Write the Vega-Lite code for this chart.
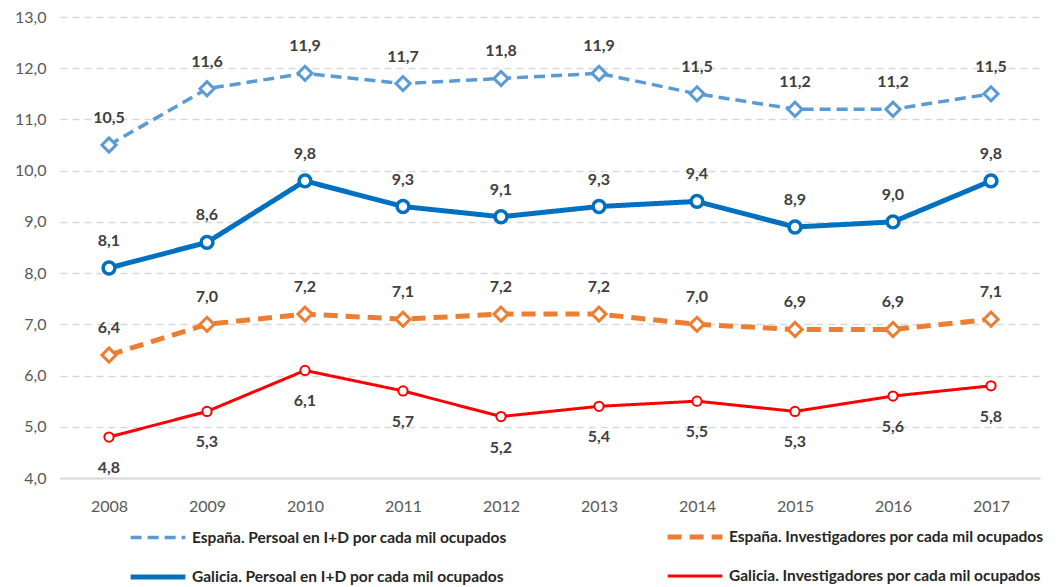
{
  "$schema": "https://vega.github.io/schema/vega-lite/v6.json",
  "width": 980,
  "height": 461,
  "autosize": {"type": "none"},
  "padding": {"left": 60, "top": 17, "right": 22, "bottom": 109},
  "config": {
    "view": {"stroke": null},
    "font": "Lato"
  },
  "data": {
    "values": [
      {"anio": "2008", "serie": "España. Persoal en I+D por cada mil ocupados", "valor": 10.5},
      {"anio": "2009", "serie": "España. Persoal en I+D por cada mil ocupados", "valor": 11.6},
      {"anio": "2010", "serie": "España. Persoal en I+D por cada mil ocupados", "valor": 11.9},
      {"anio": "2011", "serie": "España. Persoal en I+D por cada mil ocupados", "valor": 11.7},
      {"anio": "2012", "serie": "España. Persoal en I+D por cada mil ocupados", "valor": 11.8},
      {"anio": "2013", "serie": "España. Persoal en I+D por cada mil ocupados", "valor": 11.9},
      {"anio": "2014", "serie": "España. Persoal en I+D por cada mil ocupados", "valor": 11.5},
      {"anio": "2015", "serie": "España. Persoal en I+D por cada mil ocupados", "valor": 11.2},
      {"anio": "2016", "serie": "España. Persoal en I+D por cada mil ocupados", "valor": 11.2},
      {"anio": "2017", "serie": "España. Persoal en I+D por cada mil ocupados", "valor": 11.5},
      {"anio": "2008", "serie": "España. Investigadores por cada mil ocupados", "valor": 6.4},
      {"anio": "2009", "serie": "España. Investigadores por cada mil ocupados", "valor": 7.0},
      {"anio": "2010", "serie": "España. Investigadores por cada mil ocupados", "valor": 7.2},
      {"anio": "2011", "serie": "España. Investigadores por cada mil ocupados", "valor": 7.1},
      {"anio": "2012", "serie": "España. Investigadores por cada mil ocupados", "valor": 7.2},
      {"anio": "2013", "serie": "España. Investigadores por cada mil ocupados", "valor": 7.2},
      {"anio": "2014", "serie": "España. Investigadores por cada mil ocupados", "valor": 7.0},
      {"anio": "2015", "serie": "España. Investigadores por cada mil ocupados", "valor": 6.9},
      {"anio": "2016", "serie": "España. Investigadores por cada mil ocupados", "valor": 6.9},
      {"anio": "2017", "serie": "España. Investigadores por cada mil ocupados", "valor": 7.1},
      {"anio": "2008", "serie": "Galicia. Persoal en I+D por cada mil ocupados", "valor": 8.1},
      {"anio": "2009", "serie": "Galicia. Persoal en I+D por cada mil ocupados", "valor": 8.6},
      {"anio": "2010", "serie": "Galicia. Persoal en I+D por cada mil ocupados", "valor": 9.8},
      {"anio": "2011", "serie": "Galicia. Persoal en I+D por cada mil ocupados", "valor": 9.3},
      {"anio": "2012", "serie": "Galicia. Persoal en I+D por cada mil ocupados", "valor": 9.1},
      {"anio": "2013", "serie": "Galicia. Persoal en I+D por cada mil ocupados", "valor": 9.3},
      {"anio": "2014", "serie": "Galicia. Persoal en I+D por cada mil ocupados", "valor": 9.4},
      {"anio": "2015", "serie": "Galicia. Persoal en I+D por cada mil ocupados", "valor": 8.9},
      {"anio": "2016", "serie": "Galicia. Persoal en I+D por cada mil ocupados", "valor": 9.0},
      {"anio": "2017", "serie": "Galicia. Persoal en I+D por cada mil ocupados", "valor": 9.8},
      {"anio": "2008", "serie": "Galicia. Investigadores por cada mil ocupados", "valor": 4.8},
      {"anio": "2009", "serie": "Galicia. Investigadores por cada mil ocupados", "valor": 5.3},
      {"anio": "2010", "serie": "Galicia. Investigadores por cada mil ocupados", "valor": 6.1},
      {"anio": "2011", "serie": "Galicia. Investigadores por cada mil ocupados", "valor": 5.7},
      {"anio": "2012", "serie": "Galicia. Investigadores por cada mil ocupados", "valor": 5.2},
      {"anio": "2013", "serie": "Galicia. Investigadores por cada mil ocupados", "valor": 5.4},
      {"anio": "2014", "serie": "Galicia. Investigadores por cada mil ocupados", "valor": 5.5},
      {"anio": "2015", "serie": "Galicia. Investigadores por cada mil ocupados", "valor": 5.3},
      {"anio": "2016", "serie": "Galicia. Investigadores por cada mil ocupados", "valor": 5.6},
      {"anio": "2017", "serie": "Galicia. Investigadores por cada mil ocupados", "valor": 5.8}
    ]
  },
  "transform": [
    {"calculate": "replace(format(datum.valor, '.1f'), '.', ',')", "as": "etiqueta"}
  ],
  "encoding": {
    "x": {
      "field": "anio", "type": "ordinal",
      "scale": {"type": "point", "padding": 0.5},
      "axis": {
        "title": null, "labelAngle": 0, "labelFont": "Lato", "labelFontSize": 16,
        "labelColor": "#595959", "labelPadding": 20, "ticks": false,
        "domain": true, "domainColor": "#D9D9D9", "domainWidth": 2, "grid": false
      }
    },
    "y": {
      "field": "valor", "type": "quantitative",
      "scale": {"domain": [4, 13], "nice": false, "zero": false},
      "axis": {
        "title": null, "values": [4, 5, 6, 7, 8, 9, 10, 11, 12, 13],
        "labelExpr": "replace(format(datum.value, '.1f'), '.', ',')",
        "labelFont": "Lato", "labelFontSize": 16, "labelColor": "#595959",
        "labelPadding": 14, "ticks": false, "domain": false,
        "grid": true, "gridColor": "#D9D9D9", "gridWidth": 1.5, "gridDash": [7, 5]
      }
    }
  },
  "layer": [
    {
      "mark": {"type": "line"},
      "encoding": {
        "color": {
          "field": "serie", "type": "nominal",
          "scale": {
            "domain": ["España. Persoal en I+D por cada mil ocupados", "España. Investigadores por cada mil ocupados", "Galicia. Persoal en I+D por cada mil ocupados", "Galicia. Investigadores por cada mil ocupados"],
            "range": ["#5B9BD5", "#ED7D31", "#0070C0", "#FF0000"]
          },
          "legend": {
            "title": null, "orient": "none", "legendX": 68, "legendY": 490,
            "columns": 2, "columnPadding": 150, "rowPadding": -17,
            "values": ["España. Persoal en I+D por cada mil ocupados", "Galicia. Persoal en I+D por cada mil ocupados", "España. Investigadores por cada mil ocupados", "Galicia. Investigadores por cada mil ocupados"],
            "symbolType": "stroke", "symbolSize": 3000,
            "labelFont": "Lato", "labelFontSize": 15.5, "labelFontWeight": "bold",
            "labelColor": "#262626", "labelLimit": 500, "labelOffset": 4
          }
        },
        "strokeDash": {
          "field": "serie", "type": "nominal",
          "scale": {
            "domain": ["España. Persoal en I+D por cada mil ocupados", "España. Investigadores por cada mil ocupados", "Galicia. Persoal en I+D por cada mil ocupados", "Galicia. Investigadores por cada mil ocupados"],
            "range": [[11, 6], [14, 8], [1, 0], [1, 0]]
          }
        },
        "strokeWidth": {
          "field": "serie", "type": "nominal",
          "scale": {
            "type": "ordinal",
            "domain": ["España. Persoal en I+D por cada mil ocupados", "España. Investigadores por cada mil ocupados", "Galicia. Persoal en I+D por cada mil ocupados", "Galicia. Investigadores por cada mil ocupados"],
            "range": [3.5, 5, 5, 3]
          }
        }
      }
    },
    {
      "transform": [{"filter": "datum.serie == 'España. Persoal en I+D por cada mil ocupados'"}],
      "mark": {"type": "point", "shape": "diamond", "filled": true, "fill": "white", "stroke": "#5B9BD5", "strokeWidth": 3, "size": 200, "opacity": 1}
    },
    {
      "transform": [{"filter": "datum.serie == 'España. Investigadores por cada mil ocupados'"}],
      "mark": {"type": "point", "shape": "diamond", "filled": true, "fill": "white", "stroke": "#ED7D31", "strokeWidth": 3, "size": 200, "opacity": 1}
    },
    {
      "transform": [{"filter": "datum.serie == 'Galicia. Persoal en I+D por cada mil ocupados'"}],
      "mark": {"type": "point", "shape": "circle", "filled": true, "fill": "white", "stroke": "#0070C0", "strokeWidth": 3.5, "size": 140, "opacity": 1}
    },
    {
      "transform": [{"filter": "datum.serie == 'Galicia. Investigadores por cada mil ocupados'"}],
      "mark": {"type": "point", "shape": "circle", "filled": true, "fill": "white", "stroke": "#FF0000", "strokeWidth": 2, "size": 85, "opacity": 1}
    },
    {
      "transform": [{"filter": "datum.serie != 'Galicia. Investigadores por cada mil ocupados'"}],
      "mark": {"type": "text", "dy": -27, "font": "Lato", "fontSize": 16, "fontWeight": "bold", "color": "#404040"},
      "encoding": {"text": {"field": "etiqueta"}}
    },
    {
      "transform": [{"filter": "datum.serie == 'Galicia. Investigadores por cada mil ocupados'"}],
      "mark": {"type": "text", "dy": 31, "font": "Lato", "fontSize": 16, "fontWeight": "bold", "color": "#404040"},
      "encoding": {"text": {"field": "etiqueta"}}
    }
  ]
}
